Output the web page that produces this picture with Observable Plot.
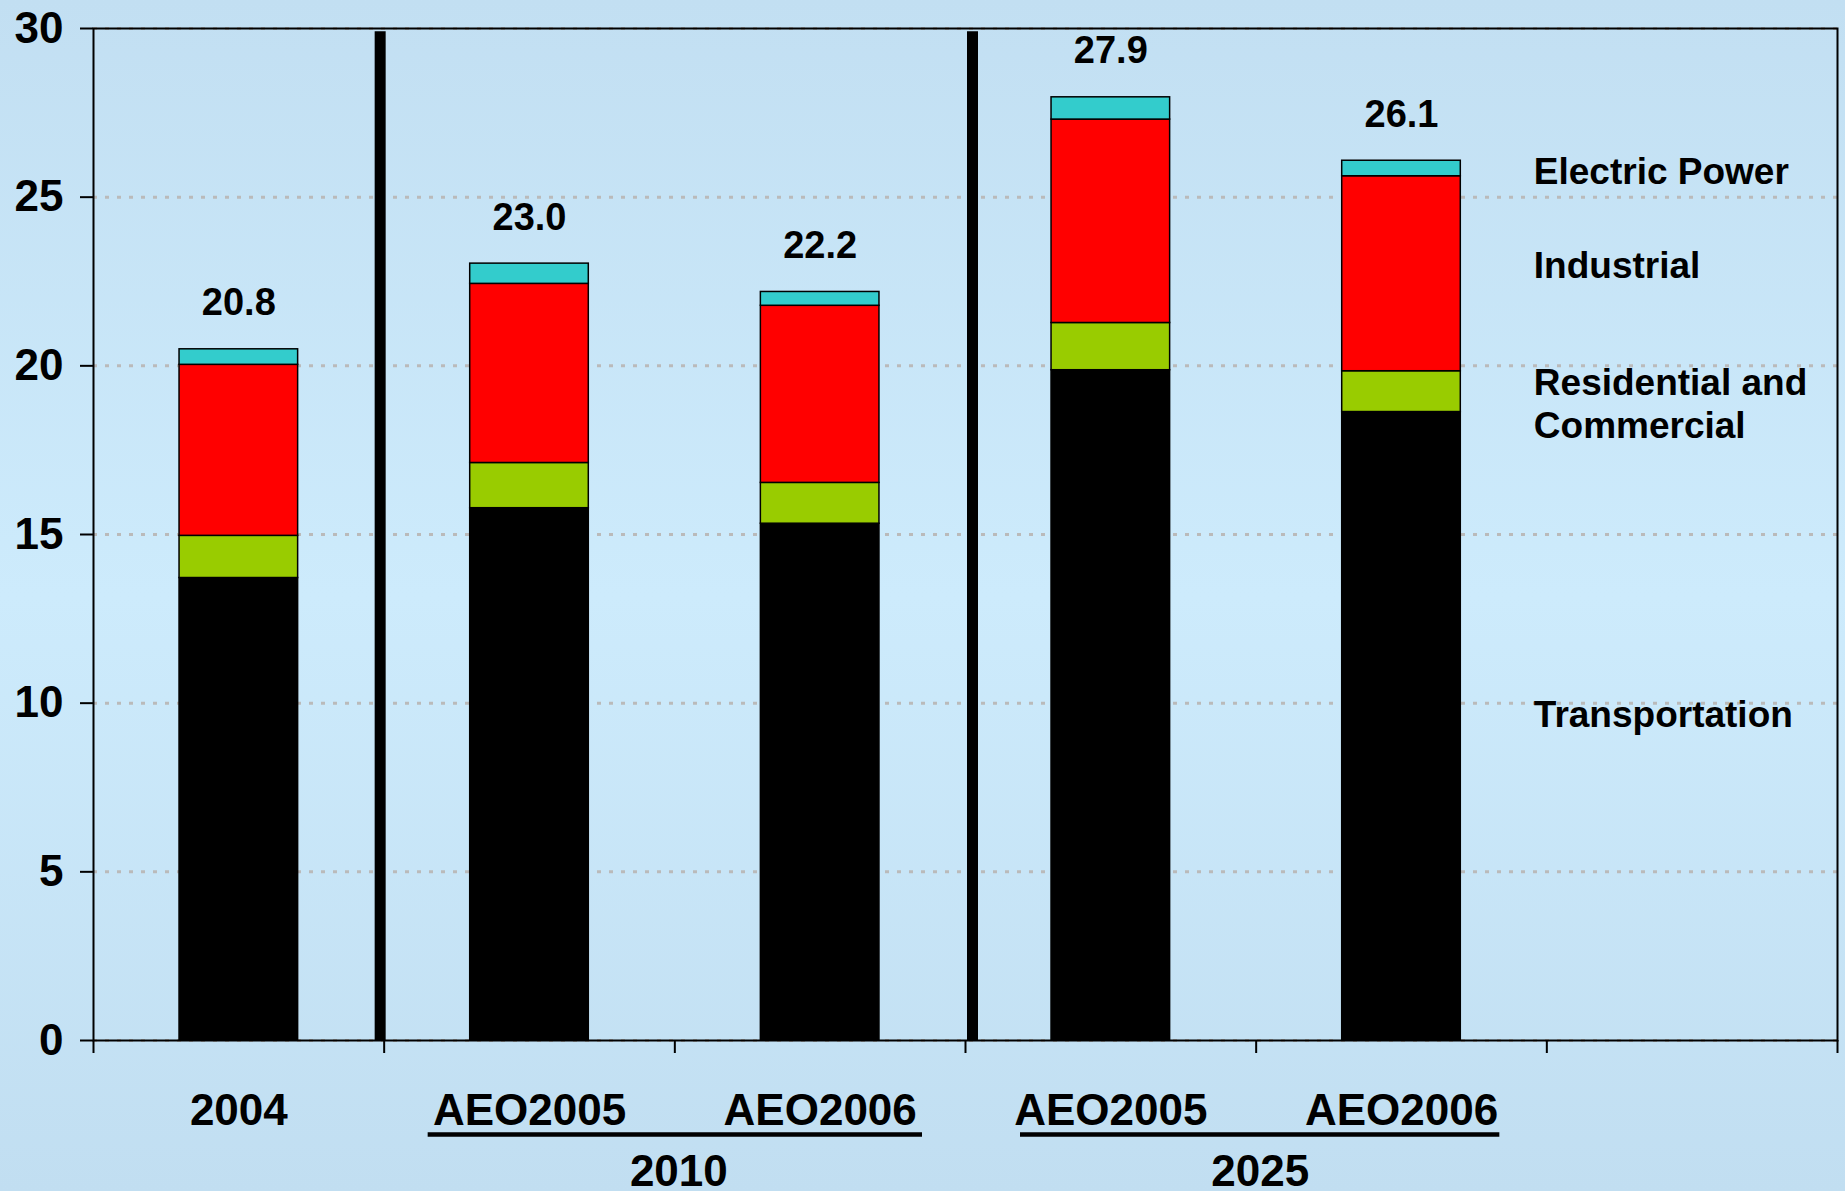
<!DOCTYPE html>
<html><head><meta charset="utf-8">
<script src="https://cdn.jsdelivr.net/npm/d3@7"></script>
<script src="https://cdn.jsdelivr.net/npm/@observablehq/plot@0.6"></script>
<style>
html,body{margin:0;padding:0;}
body{width:1845px;height:1191px;overflow:hidden;background:linear-gradient(to bottom,#c2dff2 0%,#cdebfc 50%,#c1def1 100%);}
#chart svg{display:block;}
</style></head><body><div id="chart"></div>
<script>
// ---- data ----
const categories = ["2004", "AEO2005", "AEO2006", "AEO2005", "AEO2006"];
const sectors = ["Transportation", "Residential and Commercial", "Industrial", "Electric Power"];
const transportation = [13.71, 15.78, 15.32, 19.87, 18.63];
const residentialCommercial = [1.25, 1.34, 1.21, 1.40, 1.21];
const industrial = [5.07, 5.31, 5.25, 6.03, 5.78];
const electricPower = [0.46, 0.60, 0.41, 0.66, 0.46];
const totalLabels = ["20.8", "23.0", "22.2", "27.9", "26.1"];
const groupLabels = ["2010", "2025"];
const groupFirst = [1, 3];   // index of first category in each group
const groupLast = [2, 4];    // index of last category in each group
const separatorsAfter = [0, 2]; // thick dividers after these categories
const legendLabels = ["Electric Power", "Industrial", "Residential and\nCommercial", "Transportation"];
const legendValues = [25.8, 23.0, 18.9, 9.7];
const yTicks = [0, 5, 10, 15, 20, 25, 30];

// ---- layout / style ----
const W = 1845, H = 1191, mL = 93, mR = 8, mT = 28, mB = 151;
const nCols = categories.length + 1;
const step = (W - mL - mR) / nCols;
const barInset = step * 0.296;
const colors = {
  "Transportation": "#000000",
  "Residential and Commercial": "#99cc00",
  "Industrial": "#ff0000",
  "Electric Power": "#33cccc"
};
const font = "'Liberation Sans', Arial, Helvetica, sans-serif";
const underlineInsets = [[44, 43], [55, 47]];
const separatorOffsets = [-4, 7];

// ---- derived tables ----
const series = [transportation, residentialCommercial, industrial, electricPower];
const rows = [];
categories.forEach((c, i) => {
  let base = 0;
  sectors.forEach((s, k) => {
    const v = series[k][i];
    rows.push({i, cat: c, sector: s, y1: base, y2: base + v});
    base += v;
  });
});
const totals = categories.map((c, i) => ({i, total: d3.sum(series, s => s[i]), label: totalLabels[i]}));

const marks = [
  Plot.gridY({ticks: yTicks, stroke: "#bababa", strokeOpacity: 1, strokeWidth: 3, strokeDasharray: "4,8"}),
  Plot.rect(rows, {
    x1: d => d.i, x2: d => d.i + 1, y1: "y1", y2: "y2",
    fill: d => colors[d.sector], stroke: "#000", strokeWidth: 1.5,
    insetLeft: barInset, insetRight: barInset
  }),
  ...separatorsAfter.map((s, k) => Plot.ruleX([s + 1], {x: d => d, y1: 0, y2: 29.9, stroke: "#000", strokeWidth: 11, dx: separatorOffsets[k]})),
  Plot.frame({stroke: "#000", strokeWidth: 2}),
  Plot.axisY({ticks: yTicks, tickSize: 13, tickPadding: 17, strokeWidth: 2, fontSize: 44, fontWeight: "bold", label: null, fontFamily: font}),
  Plot.axisX({ticks: d3.range(nCols + 1), tickSize: 13, strokeWidth: 2, tickFormat: () => "", label: null}),
  Plot.text(categories, {x: (d, i) => i + 0.5, text: d => d, frameAnchor: "bottom", lineAnchor: "middle", dy: 70, fontSize: 44, fontWeight: "bold", fontFamily: font, fill: "#000"}),
  ...groupLabels.map((g, k) => Plot.ruleY([0], {
    x1: groupFirst[k], x2: groupLast[k] + 1, dy: 94, stroke: "#000", strokeWidth: 4.5,
    insetLeft: underlineInsets[k][0], insetRight: underlineInsets[k][1]
  })),
  Plot.text(groupLabels, {x: (d, i) => (groupFirst[i] + groupLast[i] + 1) / 2, text: d => d, frameAnchor: "bottom", lineAnchor: "middle", dy: 131, dx: 4, fontSize: 44, fontWeight: "bold", fontFamily: font, fill: "#000"}),
  Plot.text(totals, {x: d => d.i + 0.5, y: "total", text: "label", dy: -46, fontSize: 38, fontWeight: "bold", fontFamily: font, fill: "#000"}),
  Plot.text(legendLabels, {x: () => categories.length, y: (d, i) => legendValues[i], text: d => d, textAnchor: "start", dx: -13, fontSize: 37, fontWeight: "bold", lineHeight: 1.17, fontFamily: font, fill: "#000"})
];

const chart = Plot.plot({
  width: W, height: H,
  marginLeft: mL, marginRight: mR, marginTop: mT, marginBottom: mB,
  style: {background: "transparent", fontFamily: font, fontWeight: "bold", fontSize: "44px", color: "#000", overflow: "visible"},
  x: {type: "linear", domain: [0, nCols], axis: null},
  y: {domain: [0, 30], axis: null},
  marks
});
document.getElementById("chart").appendChild(chart);
</script>
</body></html>
